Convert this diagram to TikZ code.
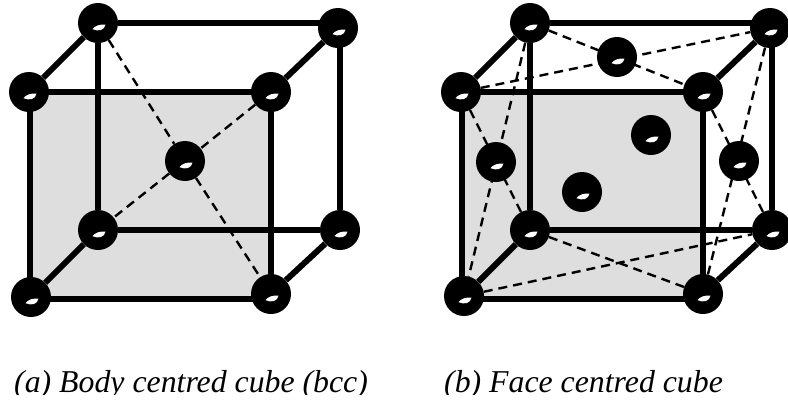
\documentclass[tikz,border=0pt]{standalone}
\usepackage{fontspec}
\setmainfont{Liberation Serif}
\usetikzlibrary{backgrounds}
\tikzset{
  x=1pt,y=-1pt,
  atom/.style={circle,fill=black,inner sep=0pt,minimum size=40pt,
    path picture={\fill[white] ([shift={(-5.5pt,-6.2pt)}]path picture bounding box.center)
      .. controls +(3pt,4pt) and +(-6pt,0pt) .. ([shift={(7.5pt,-1.5pt)}]path picture bounding box.center)
      .. controls +(-1pt,-6pt) and +(6pt,-2.5pt) .. cycle;}},
  rigid/.style={line width=6pt,black},
  thinrigid/.style={line width=5.4pt,black},
  dashline/.style={line width=2.4pt,black,dash pattern=on 9pt off 6pt},
  greyface/.style={fill=black!13},
  captext/.style={font=\itshape\fontsize{31.8}{35}\selectfont,anchor=base west,inner sep=0pt}
}
\begin{document}
\begin{tikzpicture}
\useasboundingbox (0,0) rectangle (788,402);
\clip (0,0) rectangle (788,394);
% cube a
\node[atom] (atbl) at (98,23) {};
\node[atom] (atbr) at (338,28) {};
\node[atom] (aftl) at (29,92) {};
\node[atom] (aftr) at (271,92) {};
\node[atom] (ac) at (185,161) {};
\node[atom] (abbl) at (98,230) {};
\node[atom] (abbr) at (340,230) {};
\node[atom] (afbl) at (31,297) {};
\node[atom] (afbr) at (271,294) {};
% cube b
\node[atom] (btbl) at (530,23) {};
\node[atom] (btbr) at (770,28) {};
\node[atom] (bftl) at (461,92) {};
\node[atom] (bftr) at (703,92) {};
\node[atom] (btop) at (617,57) {};
\node[atom] (bback) at (651,135) {};
\node[atom] (bleft) at (496,162) {};
\node[atom] (bright) at (739,161) {};
\node[atom] (bfront) at (582,192) {};
\node[atom] (bbbl) at (530,230) {};
\node[atom] (bbbr) at (772,230) {};
\node[atom] (bfbl) at (464,296) {};
\node[atom] (bfbr) at (703,294) {};
\node[captext] (capa) at (14,392) {(a) Body centred cube (bcc)};
\node[captext] (capb) at (444,392) {(b) Face centred cube};
\begin{pgfonlayer}{background}
  % a
  \fill[greyface] ([xshift=1pt]aftl.center) rectangle ([yshift=-5pt]afbr.center);
  \draw[rigid] ([xshift=1pt]aftl.center) -- (aftr.center) -- ([yshift=-5pt]afbr.center) -- ([shift={(-1pt,-2pt)}]afbl.center) -- cycle;
  \draw[rigid] (atbl) -- (atbl -| atbr);
  \draw[rigid] (atbl) -- (abbl);
  \draw[rigid] (abbl) -- (abbr);
  \draw[rigid] (abbr) -- (abbr |- atbr);
  \draw[rigid] (atbl) -- (aftl);
  \draw[rigid] (atbr) -- (aftr);
  \draw[rigid] (abbl) -- (afbl);
  \draw[rigid] (abbr) -- (afbr);
  \draw[dashline] (atbl) -- (ac);
  \draw[dashline] (ac) -- (afbr);
  \draw[dashline] (aftr) -- (ac);
  \draw[dashline] (ac) -- (abbl);
  % b
  \fill[greyface] ([xshift=1pt]bftl.center) rectangle ([yshift=-5pt]bfbr.center);
  \draw[rigid] ([xshift=1pt]bftl.center) -- (bftr.center) -- ([yshift=-5pt]bfbr.center) -- ([shift={(-2pt,-3pt)}]bfbl.center) -- cycle;
  \draw[rigid] (btbl) -- (btbl -| btbr);
  \draw[rigid] (btbl) -- (bbbl);
  \draw[thinrigid] (bbbl) -- (bbbr);
  \draw[rigid] (bbbr) -- (bbbr |- btbr);
  \draw[rigid] (btbl) -- (bftl);
  \draw[rigid] (btbr) -- (bftr);
  \draw[rigid] (bbbl) -- (bfbl);
  \draw[rigid] (bbbr) -- (bfbr);
  \draw[dashline] (btbl) -- (bfbl);
  \draw[dashline] (bftl) -- (bbbl);
  \draw[dashline] (btbl) -- (bftr);
  \draw[dashline] (bftl) -- (btbr);
  \draw[dashline] (bbbl) -- (bfbr);
  \draw[dashline] (bfbl) -- (bbbr);
  \draw[dashline] (bftr) -- (bbbr);
  \draw[dashline] (btbr) -- (bfbr);
\end{pgfonlayer}
\end{tikzpicture}
\end{document}
